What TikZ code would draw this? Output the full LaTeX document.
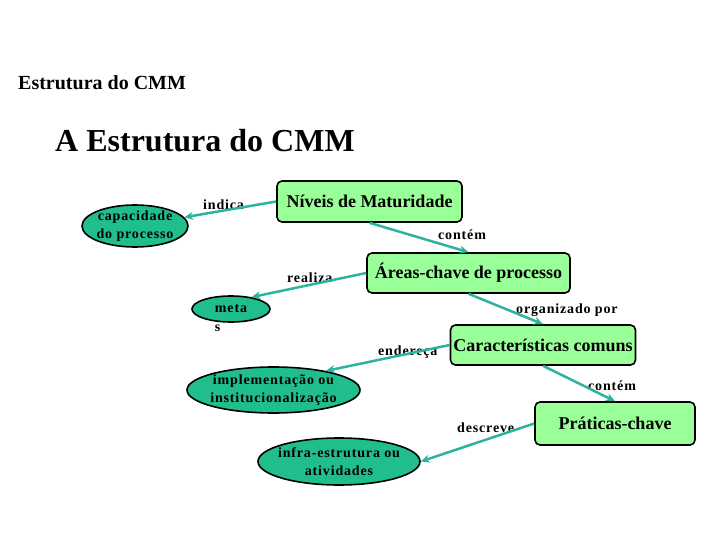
\documentclass[tikz,border=0pt]{standalone}
\usepackage{fontspec}
\setmainfont{Liberation Serif}
\newfontfamily\spacedfont[LetterSpace=6]{Liberation Serif}
\usetikzlibrary{arrows.meta,shapes.geometric}
\definecolor{boxgreen}{RGB}{153,255,153}
\definecolor{ellgreen}{RGB}{32,190,140}
\definecolor{linkteal}{RGB}{46,178,160}

\begin{document}
\begin{tikzpicture}[x=1pt,y=-1pt,
    box/.style={draw,line width=1.6pt,rounded corners=5pt,fill=boxgreen,inner sep=0pt,
      font=\fontsize{18}{20}\selectfont\bfseries},
    ell/.style={ellipse,draw,line width=1.6pt,fill=ellgreen,inner sep=-30pt,align=center,
      font=\spacedfont\fontsize{14}{18}\selectfont\bfseries},
    lbl/.style={anchor=base west,inner sep=0pt,font=\spacedfont\fontsize{14}{16}\selectfont\bfseries},
    link/.style={draw=linkteal,line width=2.5pt,-{Stealth[length=9pt,width=8pt]}}]
  \useasboundingbox (0,0) rectangle (720,540);

  \node[anchor=base west,inner sep=0pt,font=\fontsize{20}{24}\selectfont\bfseries] (subtitle) at (18,90) {Estrutura do CMM};
  \node[anchor=base west,inner sep=0pt,font=\fontsize{32}{38}\selectfont\bfseries] (title) at (55,152) {A Estrutura do CMM};

  \node[box,minimum width=185,minimum height=41] (niveis) at (369.5,201.5) {Níveis de Maturidade};
  \node[box,minimum width=203,minimum height=40] (areas) at (468.5,273) {Áreas-chave de processo};
  \node[box,minimum width=185,minimum height=40] (carac) at (543,345) {Características comuns};
  \node[box,minimum width=160,minimum height=43] (praticas) at (615,423.5) {Práticas-chave};

  \node[ell,minimum width=106,minimum height=42] (capac) at (135,226) {capacidade\\do processo};
  \node[ell,minimum width=78,minimum height=26] (metas) at (231,309) {\rlap{\smash{\raisebox{-19pt}{s}}}meta};
  \node[ell,minimum width=173,minimum height=46] (implem) at (273.5,390) {implementação ou\\institucionalização};
  \node[ell,minimum width=162,minimum height=47] (infra) at (339,461.5) {infra-estrutura ou\\atividades};

  \node[lbl] (indica) at (203,210) {indica};
  \node[lbl] (contem1) at (438,240) {contém};
  \node[lbl] (realiza) at (287,282) {realiza};
  \node[lbl] (organiza) at (516,313) {organizado por};
  \node[lbl] (enderec) at (378,355) {endereça};
  \node[lbl] (contem2) at (588,390) {contém};
  \node[lbl] (descreve) at (457,432) {descreve};

  \draw[link] (niveis.west) -- (capac.10);
  \draw[link] (niveis.south) -- (areas.north);
  \draw[link] (areas.west) -- (metas.30);
  \draw[link] (areas.south) -- (carac.north);
  \draw[link] (carac.west) -- (implem.20);
  \draw[link] (carac.south) -- (praticas.north);
  \draw[link] (praticas.west) -- (infra.east);
\end{tikzpicture}
\end{document}
